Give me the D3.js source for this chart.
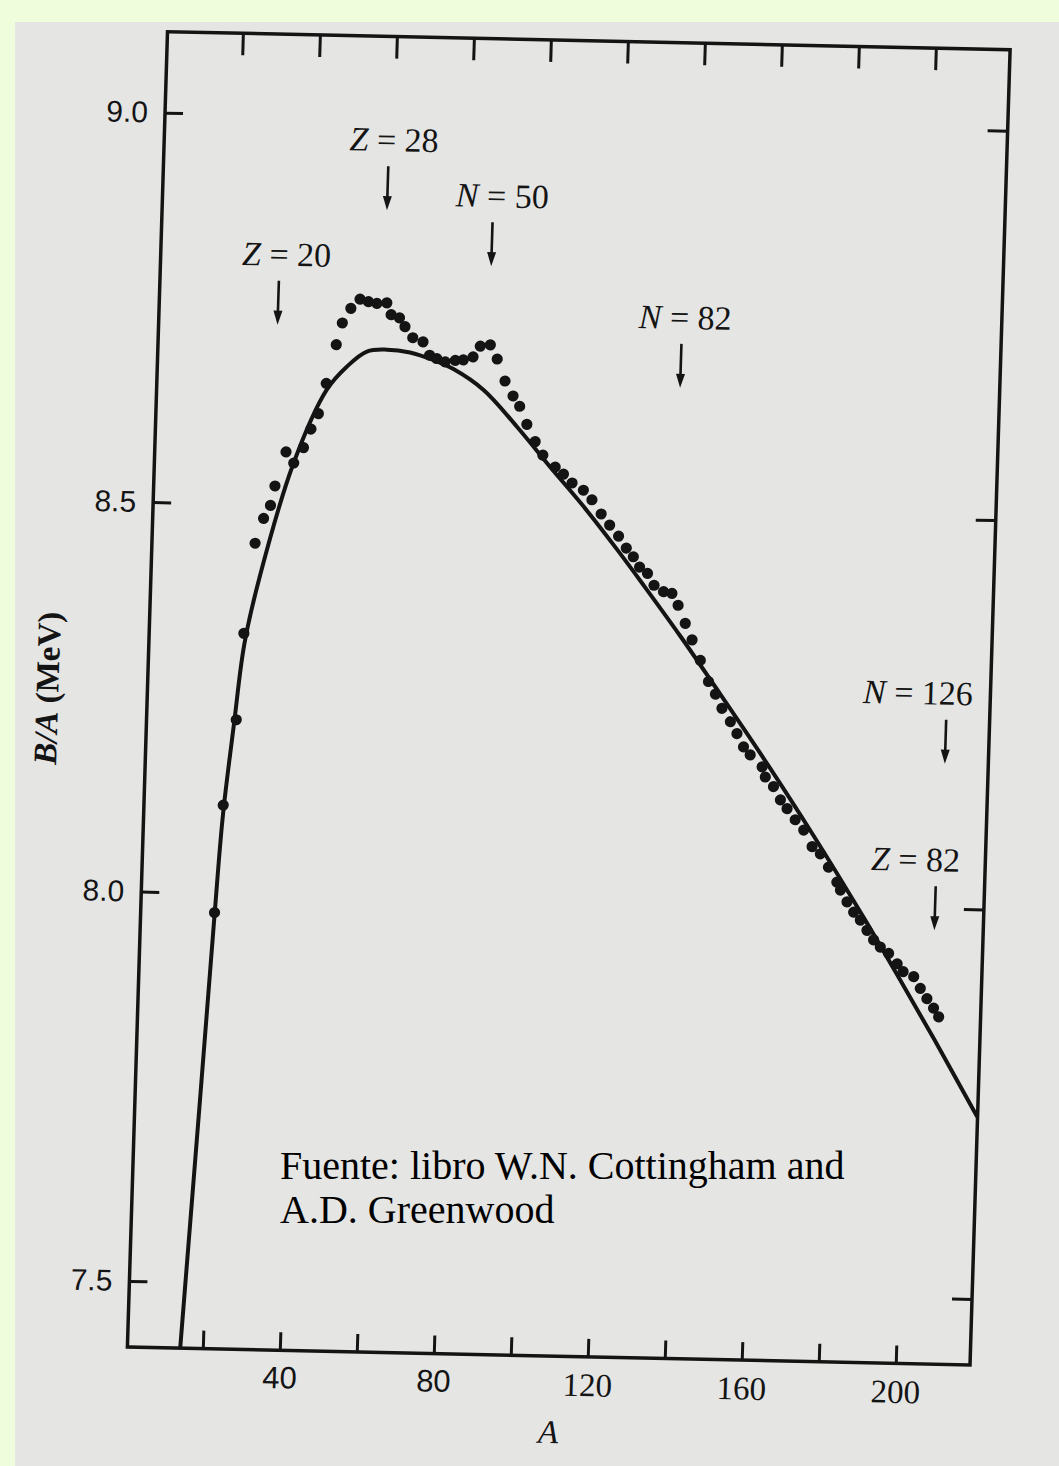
<!DOCTYPE html>
<html>
<head>
<meta charset="utf-8">
<script src="https://cdn.jsdelivr.net/npm/d3@7"></script>
<style>
  html, body { margin: 0; padding: 0; background: #f0fddc; }
  svg { display: block; }
</style>
</head>
<body>
<svg id="chart" width="1059" height="1466"></svg>
<script>
// Binding energy per nucleon B/A (MeV) against mass number A

// Smooth semi-empirical curve
const curveA = [14.1, 17.3, 19.6, 21.0, 23.2, 25.2, 28.8, 36.5, 44.6, 49.6, 54.7, 59.9, 65.9, 72.0, 77.3,
                85.3, 94.2, 103.2, 112.2, 121.2, 128.5, 138.4, 147.4, 160.9, 174.5, 188.2, 197.3, 207.3, 219.2];
const curveB = [7.412, 7.734, 7.970, 8.100, 8.220, 8.320, 8.410, 8.553, 8.649, 8.679, 8.699, 8.702, 8.699, 8.690, 8.679,
                8.653, 8.607, 8.556, 8.506, 8.452, 8.406, 8.342, 8.281, 8.188, 8.090, 7.986, 7.914, 7.833, 7.734];

// Measured nuclei
const dotA = [19.6, 21.0, 23.7, 25.0, 27.2, 29.2, 30.9, 31.9, 34.5, 36.6, 39.0, 40.8, 42.6, 44.4, 46.7, 48.1,
              50.2, 52.5, 54.7, 56.9, 59.5, 60.7, 62.9, 64.4, 66.5, 69.2, 71.0, 72.9, 75.1, 77.7, 79.8, 82.3,
              84.1, 86.7, 88.6, 90.8, 93.0, 94.8, 96.8, 99.1, 101.2, 104.5, 106.7, 109.0, 112.0, 114.3, 116.8,
              119.1, 121.5, 123.6, 125.5, 127.2, 129.3, 131.1, 133.6, 135.8, 137.5, 139.5, 141.4, 143.7, 146.0,
              147.9, 149.7, 152.0, 153.8, 155.6, 157.4, 160.6, 161.5, 163.7, 165.6, 167.4, 169.6, 171.9, 174.2,
              176.4, 178.6, 180.9, 181.9, 183.7, 185.5, 187.3, 189.1, 190.9, 192.7, 194.9, 197.2, 198.8, 201.6,
              203.4, 205.2, 207.0, 208.4];
const dotB = [7.975, 8.113, 8.223, 8.334, 8.450, 8.482, 8.499, 8.524, 8.568, 8.554, 8.574, 8.598, 8.618, 8.657,
              8.707, 8.735, 8.754, 8.766, 8.763, 8.761, 8.762, 8.747, 8.743, 8.732, 8.718, 8.713, 8.696, 8.692,
              8.688, 8.690, 8.691, 8.695, 8.709, 8.711, 8.693, 8.665, 8.646, 8.633, 8.610, 8.588, 8.571, 8.556,
              8.547, 8.536, 8.527, 8.515, 8.497, 8.483, 8.469, 8.454, 8.443, 8.430, 8.422, 8.407, 8.399, 8.397,
              8.382, 8.359, 8.338, 8.312, 8.285, 8.269, 8.251, 8.234, 8.219, 8.202, 8.192, 8.177, 8.164, 8.152,
              8.135, 8.124, 8.110, 8.097, 8.076, 8.067, 8.050, 8.031, 8.021, 8.006, 7.993, 7.983, 7.970, 7.958,
              7.949, 7.941, 7.928, 7.918, 7.912, 7.897, 7.884, 7.872, 7.861];

// Axis ticks
const xTicks = [20, 40, 60, 80, 100, 120, 140, 160, 180, 200];
const xTickLabels = ["", "40", "", "80", "", "120", "", "160", "", "200"];
const yTicks = [9.0, 8.5, 8.0, 7.5];

// Magic-number markers: symbol, number, A of the arrow, B/A at the arrow tip
const magicSymbol = ["Z", "Z", "N", "N", "N", "Z"];
const magicNumber = ["20", "28", "50", "82", "126", "82"];
const magicA = [31.3, 58.8, 86.3, 136.3, 208.0, 206.6];
const magicB = [8.731, 8.881, 8.812, 8.661, 8.186, 7.972];

// ---------------------------------------------------------------------------
const ink = "#141414";
const W = 842.8, H = 1315.9;

const svg = d3.select("#chart");
svg.append("rect").attr("width", 1059).attr("height", 1466).attr("fill", "#f0fddc");
svg.append("rect").attr("x", 15).attr("y", 22).attr("width", 1044).attr("height", 1444).attr("fill", "#e5e5e4");

// the printed figure sits slightly askew on the page
const g = svg.append("g")
  .attr("transform", "matrix(0.99976,0.02136,-0.03047,0.99954,167.5,31.7)");

const x = d3.scaleLinear().domain([0, 220]).range([-1.6, -1.6 + 3.8506 * 220]);
const y = d3.scaleLinear().domain([9, 7.5]).range([81, 81 + 779.2 * 1.5]);

g.append("clipPath").attr("id", "plotArea")
  .append("rect").attr("width", W).attr("height", H);

function styleAxis(sel) {
  sel.select(".domain").remove();
  sel.selectAll(".tick line").attr("stroke", ink).attr("stroke-width", 3);
}

const axisB = g.append("g").attr("transform", `translate(0,${H})`)
  .call(d3.axisBottom(x).tickValues(xTicks).tickSize(-18).tickPadding(16)
    .tickFormat((d, i) => xTickLabels[i]));
styleAxis(axisB);
axisB.selectAll(".tick text")
  .attr("font-family", d => d < 100 ? "'Liberation Sans', Arial, sans-serif" : "'Liberation Serif', 'Times New Roman', serif")
  .attr("font-size", d => d < 100 ? 31 : 33)
  .attr("fill", ink);

const axisT = g.append("g")
  .call(d3.axisTop(x).tickValues(xTicks).tickSize(-22).tickFormat(() => ""));
styleAxis(axisT);

const axisL = g.append("g")
  .call(d3.axisLeft(y).tickValues(yTicks).tickSize(-18).tickPadding(17).tickFormat(d3.format(".1f")));
styleAxis(axisL);
axisL.selectAll(".tick text")
  .attr("font-family", "'Liberation Sans', Arial, sans-serif")
  .attr("font-size", 30)
  .attr("fill", ink);

const axisR = g.append("g").attr("transform", `translate(${W},0)`)
  .call(d3.axisRight(y).tickValues(yTicks).tickSize(-20).tickFormat(() => ""));
styleAxis(axisR);

// frame
g.append("rect").attr("width", W).attr("height", H)
  .attr("fill", "none").attr("stroke", ink).attr("stroke-width", 3.5);

// fitted curve
const curvePts = curveA.map((a, i) => [a, curveB[i]]);
const line = d3.line().x(d => x(d[0])).y(d => y(d[1])).curve(d3.curveCatmullRom.alpha(0.5));
g.append("path").datum(curvePts)
  .attr("clip-path", "url(#plotArea)")
  .attr("d", line)
  .attr("fill", "none").attr("stroke", ink).attr("stroke-width", 4)
  .attr("stroke-linejoin", "round");

// measured points
g.append("g").selectAll("circle")
  .data(dotA.map((a, i) => [a, dotB[i]]))
  .join("circle")
  .attr("cx", d => x(d[0])).attr("cy", d => y(d[1])).attr("r", 5.6)
  .attr("fill", ink);

// magic-number arrows
const labelShift = [7, 5, 9, 3, -29, -21];
const marks = g.append("g");
magicA.forEach((a, i) => {
  const ax = x(a), tip = y(magicB[i]);
  marks.append("line")
    .attr("x1", ax).attr("x2", ax).attr("y1", tip - 44).attr("y2", tip - 10)
    .attr("stroke", ink).attr("stroke-width", 2.6);
  marks.append("path")
    .attr("d", `M${ax - 4.5},${tip - 14}L${ax + 4.5},${tip - 14}L${ax},${tip}Z`)
    .attr("fill", ink);
  const t = marks.append("text")
    .attr("x", ax + labelShift[i]).attr("y", tip - 59)
    .attr("text-anchor", "middle")
    .attr("font-family", "'Liberation Serif', 'Times New Roman', serif")
    .attr("font-size", 34).attr("fill", ink);
  t.append("tspan").attr("font-style", "italic").text(magicSymbol[i]);
  t.append("tspan").text(" = " + magicNumber[i]);
});

// axis titles
const yt = g.append("text")
  .attr("transform", `translate(-89,659) rotate(-90)`)
  .attr("text-anchor", "middle")
  .attr("font-family", "'Liberation Serif', 'Times New Roman', serif")
  .attr("font-weight", "bold").attr("font-size", 33).attr("fill", ink);
yt.append("tspan").attr("font-style", "italic").text("B/A");
yt.append("tspan").text(" (MeV)");

g.append("text")
  .attr("x", x(110.3)).attr("y", H + 87)
  .attr("text-anchor", "middle")
  .attr("font-family", "'Liberation Serif', 'Times New Roman', serif")
  .attr("font-style", "italic").attr("font-size", 33).attr("fill", ink)
  .text("A");

// source note
const note = svg.append("text")
  .attr("font-family", "'Liberation Serif', 'Times New Roman', serif")
  .attr("font-size", 40).attr("fill", "#000");
note.append("tspan").attr("x", 280).attr("y", 1179).text("Fuente: libro W.N. Cottingham and");
note.append("tspan").attr("x", 280).attr("y", 1223).text("A.D. Greenwood");
</script>
</body>
</html>
